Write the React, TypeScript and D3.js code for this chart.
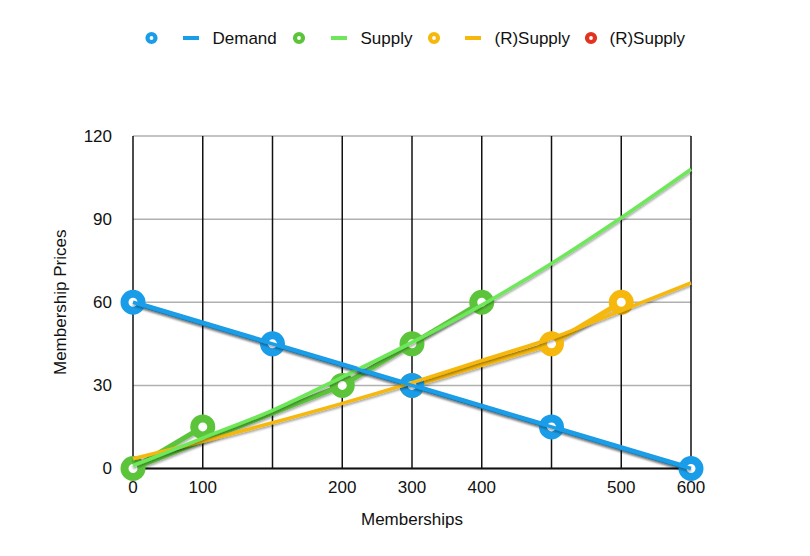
import * as d3 from 'd3'

const W = 810
const H = 556
const FONT = "'Liberation Sans', Arial, Helvetica, sans-serif"

// x positions are on a 0..600 axis, grid every 75
const demandX = [0, 150, 300, 450, 600]
const demandY = [60, 45, 30, 15, 0]
// points are joined in data order, as the original does
const supplyX = [75, 0, 225, 300, 375]
const supplyY = [15, 0, 30, 45, 60]
const rSupplyX = [300, 450, 525]
const rSupplyY = [30, 45, 60]

// trendlines at each grid line
const trendX = [0, 75, 150, 225, 300, 375, 450, 525, 600]
const demandTrend = [60, 52.5, 45, 37.5, 30, 22.5, 15, 7.5, 0]
const supplyTrend = [1, 11, 21, 33, 45.5, 59, 74, 90.5, 108]
const rSupplyTrend = [3.5, 9.8, 16.5, 23.5, 31, 39, 47, 57, 67]

const xTickValues = [0, 75, 225, 300, 375, 525, 600]
const xTickLabels = ['0', '100', '200', '300', '400', '500', '600']
const yTickValues = [0, 30, 60, 90, 120]

const BLUE = '#1a9de8'
const GREEN = '#5cc43a'
const LIGHT_GREEN = '#6ee85a'
const YELLOW = '#f6b80c'
const RED = '#e33220'

const series = [
  { name: 'Demand', xs: demandX, ys: demandY, trend: demandTrend, color: BLUE, trendColor: BLUE },
  { name: 'Supply', xs: supplyX, ys: supplyY, trend: supplyTrend, color: GREEN, trendColor: LIGHT_GREEN },
  { name: '(R)Supply', xs: rSupplyX, ys: rSupplyY, trend: rSupplyTrend, color: YELLOW, trendColor: YELLOW },
]

const legend = [
  { kind: 'marker', color: BLUE, x: 151.5 },
  { kind: 'dash', color: BLUE, x: 183, label: 'Demand' },
  { kind: 'marker', color: GREEN, x: 299 },
  { kind: 'dash', color: LIGHT_GREEN, x: 331, label: 'Supply' },
  { kind: 'marker', color: YELLOW, x: 434 },
  { kind: 'dash', color: YELLOW, x: 465, label: '(R)Supply' },
  { kind: 'marker', color: RED, x: 591, label: '(R)Supply' },
]

export default function App() {
  const x = d3.scaleLinear().domain([0, 600]).range([133, 691])
  const y = d3.scaleLinear().domain([0, 120]).range([468.5, 136])
  const straight = d3
    .line<[number, number]>()
    .x((d) => x(d[0]))
    .y((d) => y(d[1]))
  const smooth = d3
    .line<[number, number]>()
    .x((d) => x(d[0]))
    .y((d) => y(d[1]))
    .curve(d3.curveMonotoneX)

  const drawOrder = [series[2], series[1], series[0]]

  return (
    <div style={{ position: 'absolute', left: 0, top: 0 }}>
      <svg width={W} height={H} style={{ display: 'block', background: '#fff' }} fontFamily={FONT}>
        <defs>
          <filter id="shadow" x="-10%" y="-10%" width="120%" height="130%">
            <feDropShadow dx="0" dy="2" stdDeviation="1.2" floodColor="#000" floodOpacity="0.35" />
          </filter>
        </defs>

        {/* horizontal grid */}
        {yTickValues.map((v) => (
          <line key={'h' + v} x1={x(0)} x2={x(600)} y1={y(v)} y2={y(v)} stroke="#b0b0b0" strokeWidth={1.5} />
        ))}
        {/* vertical grid */}
        {d3.range(0, 601, 75).map((v) => (
          <line key={'v' + v} x1={x(v)} x2={x(v)} y1={y(120)} y2={y(0)} stroke="#111" strokeWidth={1.5} />
        ))}
        <line x1={x(0) - 1} x2={x(600) + 1} y1={y(0)} y2={y(0)} stroke="#111" strokeWidth={2} />

        {/* y ticks */}
        {yTickValues.map((v) => (
          <text key={'yt' + v} x={112} y={y(v)} textAnchor="end" dominantBaseline="central" fontSize={17} fill="#111">
            {v}
          </text>
        ))}
        {/* x ticks */}
        {xTickValues.map((v, i) => (
          <text key={'xt' + v} x={x(v)} y={487} textAnchor="middle" dominantBaseline="central" fontSize={17} fill="#111">
            {xTickLabels[i]}
          </text>
        ))}

        <text x={412} y={519} textAnchor="middle" dominantBaseline="central" fontSize={17} fill="#111">
          Memberships
        </text>
        <text
          transform={`translate(60, ${(y(0) + y(120)) / 2}) rotate(-90)`}
          textAnchor="middle"
          dominantBaseline="central"
          fontSize={17}
          fill="#111"
        >
          Membership Prices
        </text>

        {/* connecting lines */}
        {drawOrder.map((s) => (
          <path
            key={'c' + s.name}
            d={straight(s.xs.map((v, i) => [v, s.ys[i]] as [number, number])) || ''}
            fill="none"
            stroke={s.color}
            strokeWidth={5}
            strokeLinejoin="round"
            filter="url(#shadow)"
          />
        ))}

        {/* markers */}
        {drawOrder.map((s) =>
          s.xs.map((v, i) => (
            <circle
              key={'m' + s.name + i}
              cx={x(v)}
              cy={y(s.ys[i])}
              r={8.5}
              fill="#fff"
              stroke={s.color}
              strokeWidth={8}
            />
          ))
        )}

        {/* trendlines */}
        {drawOrder.map((s) => (
          <path
            key={'t' + s.name}
            d={smooth(trendX.map((v, i) => [v, s.trend[i]] as [number, number])) || ''}
            fill="none"
            stroke={s.trendColor}
            strokeWidth={3.5}
            filter="url(#shadow)"
          />
        ))}

        {/* legend */}
        {legend.map((l, i) => (
          <g key={'lg' + i}>
            {l.kind === 'marker' ? (
              <circle cx={l.x} cy={38} r={4} fill="#fff" stroke={l.color} strokeWidth={4.2} />
            ) : (
              <line x1={l.x} x2={l.x + 16} y1={38} y2={38} stroke={l.color} strokeWidth={4} />
            )}
            {l.label && (
              <text
                x={l.kind === 'marker' ? l.x + 18.5 : l.x + 29.5}
                y={38}
                dominantBaseline="central"
                fontSize={17}
                fill="#111"
              >
                {l.label}
              </text>
            )}
          </g>
        ))}
      </svg>
    </div>
  )
}
